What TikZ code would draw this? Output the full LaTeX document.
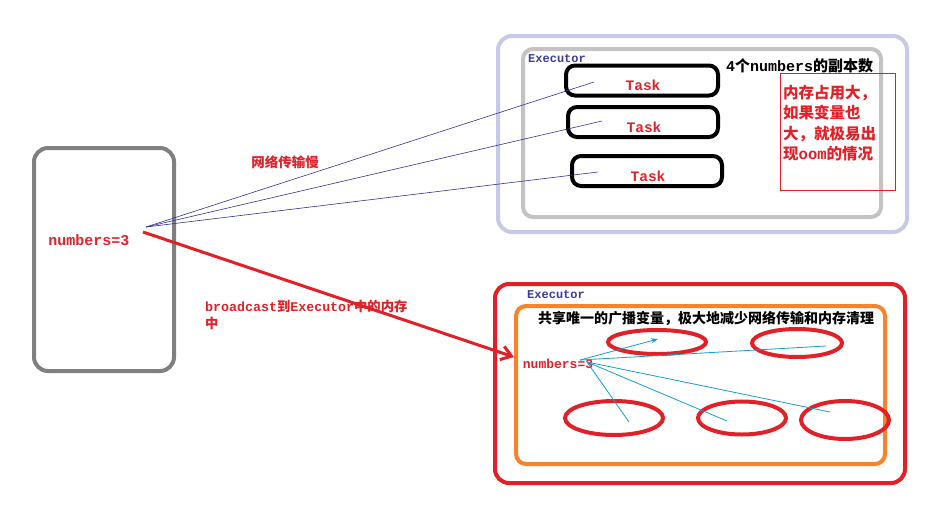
\documentclass[tikz,border=0pt]{standalone}
\usepackage{fontspec}
\setmainfont{Liberation Mono}
\newfontfamily\cjk{Noto Sans CJK SC}
\usetikzlibrary{arrows.meta,shapes.geometric}
\definecolor{myred}{RGB}{226,32,40}
\definecolor{mygray}{RGB}{128,128,128}
\definecolor{lgray}{RGB}{195,195,195}
\definecolor{lav}{RGB}{200,200,232}
\definecolor{exblue}{RGB}{60,60,160}
\definecolor{myorange}{RGB}{250,130,40}
\definecolor{mycyan}{RGB}{20,160,200}
\definecolor{navy}{RGB}{50,50,150}
\newcommand{\cj}[1]{{\cjk\bfseries #1}}
\begin{document}
\begin{tikzpicture}[x=1pt,y=-1pt,
  txt/.style={inner sep=0pt,font=\bfseries},
  box/.style={rounded corners=14pt,line width=4pt},
  taskbox/.style={draw=black,line width=4pt,rounded corners=9pt,minimum height=30pt,inner sep=0pt},
  ell/.style={draw=myred,line width=4pt,ellipse,inner sep=0pt},
  netline/.style={navy,line width=0.6pt},
  bline/.style={mycyan,line width=0.8pt}]
\useasboundingbox (0,0) rectangle (939,509);
% left box
\draw[box,draw=mygray] (34,148) rectangle (174,371);
\node[txt,text=myred,font=\bfseries\fontsize{15}{17}\selectfont] (num) at (89,240) {numbers=3};
\coordinate (src) at (146,227);
\coordinate (srcb) at (143,232);
% upper executor
\draw[box,draw=lav] (498,36) rectangle (907,232);
\draw[box,draw=lgray,rounded corners=10pt] (523,49) rectangle (881,217);
\node[txt,anchor=west,text=exblue,font=\bfseries\fontsize{12}{14}\selectfont] (ex1) at (528,59) {Executor};
\node[taskbox,minimum width=152pt] (t1) at (642,80.5) {};
\node[taskbox,minimum width=150pt] (t2) at (643,122) {};
\node[taskbox,minimum width=150pt] (t3) at (647,171) {};
\node[txt,text=myred,font=\bfseries\fontsize{14.5}{16}\selectfont] (tl1) at (643,85) {Task};
\node[txt,text=myred,font=\bfseries\fontsize{14.5}{16}\selectfont] (tl2) at (644,127) {Task};
\node[txt,text=myred,font=\bfseries\fontsize{14.5}{16}\selectfont] (tl3) at (648,176) {Task};
\node[txt,anchor=west,font=\bfseries\fontsize{15}{17}\selectfont] (copies) at (726,66) {4\cj{个}numbers\cj{的副本数}};
\node[draw=myred,line width=0.8pt,minimum width=115pt,minimum height=117pt,inner sep=0pt] (warnbox) at (837.5,131.5) {};
\node[txt,anchor=north west,text=myred,align=left,font=\fontsize{15.5}{20.5}\selectfont] (warn) at (783,85)
  {\cj{内存占用大，}\\\cj{如果变量也}\\\cj{大，就极易出}\\\cj{现}\textbf{oom}\cj{的情况}};
\coordinate (e1) at (594,82);
\coordinate (e2) at (602,121);
\coordinate (e3) at (598,172);
\draw[netline] (src) -- (e1);
\draw[netline] (src) -- (e2);
\draw[netline] (src) -- (e3);
\node[txt,text=myred,font=\fontsize{13.5}{15}\selectfont] (slow) at (285,162) {\cj{网络传输慢}};
% lower executor
\draw[box,draw=myred] (495,284) rectangle (905,483);
\draw[box,draw=myorange,rounded corners=10pt] (516,306) rectangle (885,464);
\node[txt,anchor=west,text=exblue,font=\bfseries\fontsize{12}{14}\selectfont] (ex2) at (527,295) {Executor};
\node[txt,font=\fontsize{14}{16}\selectfont] (share) at (706,318) {\cj{共享唯一的广播变量，极大地减少网络传输和内存清理}};
\node[txt,text=myred,font=\bfseries\fontsize{13}{15}\selectfont] (num2) at (558,364) {numbers=3};
\node[ell,minimum width=98pt,minimum height=24pt] (o1) at (657,342) {};
\node[ell,minimum width=90pt,minimum height=28pt] (o2) at (797,343) {};
\node[ell,minimum width=98pt,minimum height=34pt] (o3) at (614,418) {};
\node[ell,minimum width=88pt,minimum height=33pt] (o4) at (742,418) {};
\node[ell,minimum width=88pt,minimum height=38pt] (o5) at (845,420) {};
\coordinate (b0) at (580,360);
\coordinate (b1) at (587,362);
\draw[bline,-{Stealth[length=7pt,width=5pt]}] (b0) -- (658,339);
\draw[bline] (b0) -- (826,346);
\draw[bline] (b1) -- (629,422);
\draw[bline] (b1) -- (727,421);
\draw[bline] (b1) -- (830,412);
% broadcast arrow
\draw[myred,line width=3pt,-{Straight Barb[length=10pt,width=14pt,line width=3pt]}] (srcb) -- (514,357);
\node[txt,anchor=north west,text=myred,align=left,font=\bfseries\fontsize{13.3}{17}\selectfont] (bc) at (205,300)
  {broadcast\cj{到}Executor\cj{中的内存}\\\cj{中}};
\end{tikzpicture}
\end{document}
